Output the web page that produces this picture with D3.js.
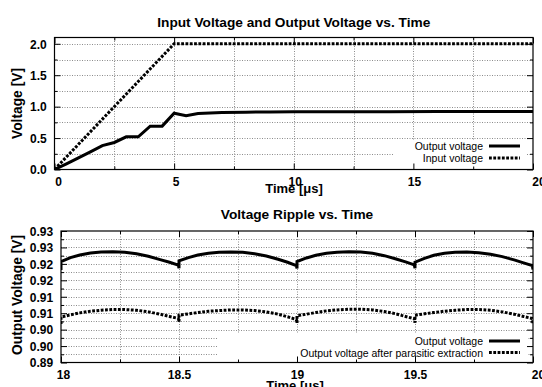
<!DOCTYPE html>
<html>
<head>
<meta charset="utf-8">
<script src="https://cdn.jsdelivr.net/npm/d3@7"></script>
<style>
  html, body { margin: 0; padding: 0; background: #fff; }
  svg { display: block; }
  text { font-family: "Liberation Sans", Arial, Helvetica, sans-serif; fill: #000; }
</style>
</head>
<body>
<svg id="chart" width="542" height="387"></svg>
<script>
// ---------- DATA ----------
// Top chart: Input Voltage and Output Voltage vs. Time
const topTime   = [0, 0.5, 1, 1.5, 2, 2.5, 3, 3.5, 4, 4.5, 5, 5.5, 6, 6.5, 7, 8, 9, 10, 12, 14, 16, 18, 20];
const topOutput = [0, 0.09, 0.185, 0.28, 0.38, 0.43, 0.52, 0.52, 0.69, 0.69, 0.895, 0.855, 0.89, 0.90, 0.905, 0.912, 0.915, 0.917, 0.919, 0.920, 0.921, 0.921, 0.922];
const inputTime    = [0, 5, 20];
const inputVoltage = [0, 2.0, 2.0];

const topXTicks = [0, 5, 10, 15, 20];
const topXTickLabels = ["0", "5", "10", "15", "20"];
const topXMinor = [2.5, 7.5, 12.5, 17.5];
const topYTicks = [0, 0.5, 1.0, 1.5, 2.0];
const topYTickLabels = ["0.0", "0.5", "1.0", "1.5", "2.0"];
const topYMinor = [0.25, 0.75, 1.25, 1.75];

// Bottom chart: Voltage Ripple vs. Time
const rippleTime = [
  18.000, 18.000, 18.04, 18.08, 18.125, 18.17, 18.22, 18.27, 18.32, 18.37, 18.42, 18.46, 18.497,
  18.500, 18.500, 18.54, 18.58, 18.625, 18.67, 18.72, 18.77, 18.82, 18.87, 18.92, 18.96, 18.997,
  19.000, 19.000, 19.04, 19.08, 19.125, 19.17, 19.22, 19.27, 19.32, 19.37, 19.42, 19.46, 19.497,
  19.500, 19.500, 19.54, 19.58, 19.625, 19.67, 19.72, 19.77, 19.82, 19.87, 19.92, 19.96, 19.997, 20.000
];
const rippleOutput = [
  0.9181, 0.9207, 0.9219, 0.9227, 0.9233, 0.9236, 0.9237, 0.9235, 0.9231, 0.9223, 0.9213, 0.9205, 0.9196,
  0.9187, 0.9209, 0.9219, 0.9227, 0.9232, 0.9235, 0.9236, 0.9235, 0.9231, 0.9224, 0.9214, 0.9205, 0.9195,
  0.9186, 0.9207, 0.9218, 0.9226, 0.9232, 0.9235, 0.9237, 0.9236, 0.9232, 0.9225, 0.9215, 0.9206, 0.9197,
  0.9187, 0.9205, 0.9217, 0.9226, 0.9232, 0.9235, 0.9236, 0.9234, 0.9229, 0.9222, 0.9212, 0.9203, 0.9195, 0.9183
];
const rippleParasitic = [
  0.9017, 0.9038, 0.9045, 0.9051, 0.9056, 0.9059, 0.9061, 0.9061, 0.9059, 0.9054, 0.9047, 0.9040, 0.9034,
  0.9024, 0.9044, 0.9048, 0.9052, 0.9056, 0.9058, 0.9060, 0.9060, 0.9058, 0.9054, 0.9047, 0.9039, 0.9031,
  0.9020, 0.9042, 0.9047, 0.9052, 0.9057, 0.9060, 0.9062, 0.9062, 0.9060, 0.9055, 0.9048, 0.9040, 0.9033,
  0.9021, 0.9044, 0.9048, 0.9052, 0.9056, 0.9059, 0.9061, 0.9061, 0.9059, 0.9054, 0.9047, 0.9040, 0.9034, 0.9016
];

const botXTicks = [18, 18.5, 19, 19.5, 20];
const botXTickLabels = ["18", "18.5", "19", "19.5", "20"];
const botXMinor = [18.25, 18.75, 19.25, 19.75];
const botYTicks = [0.89, 0.895, 0.90, 0.905, 0.91, 0.915, 0.92, 0.925, 0.93];
const botYTickLabels = ["0.89", "0.90", "0.90", "0.91", "0.91", "0.92", "0.92", "0.93", "0.93"];
const botYMinor = [0.8925, 0.8975, 0.9025, 0.9075, 0.9125, 0.9175, 0.9225, 0.9275];

// ---------- DRAW ----------
const svg = d3.select("#chart");

function panel(cfg) {
  const { x, y } = cfg;
  const [x0, x1] = x.range();
  const [y0, y1] = y.range(); // y0 bottom, y1 top
  const g = svg.append("g");

  // clip
  const clipId = "clip" + cfg.id;
  svg.append("clipPath").attr("id", clipId)
    .append("rect").attr("x", x0).attr("y", y1).attr("width", x1 - x0).attr("height", y0 - y1);

  // grid
  const gridX = cfg.xTicks.concat(cfg.xMinor).filter(v => v > x.domain()[0] && v < x.domain()[1]);
  const gridY = cfg.yTicks.concat(cfg.yMinor).filter(v => v > y.domain()[0] && v < y.domain()[1]);
  const grid = g.append("g").attr("stroke", "#8c8c8c").attr("stroke-width", 1)
    .attr("stroke-dasharray", "1,1.5").attr("fill", "none");
  grid.selectAll("line.gx").data(gridX).join("line")
    .attr("x1", d => Math.round(x(d)) + 0.5).attr("x2", d => Math.round(x(d)) + 0.5)
    .attr("y1", y0).attr("y2", y1);
  grid.selectAll("line.gy").data(gridY).join("line")
    .attr("y1", d => Math.round(y(d)) + 0.5).attr("y2", d => Math.round(y(d)) + 0.5)
    .attr("x1", x0).attr("x2", x1);

  // legend background
  g.append("rect")
    .attr("x", cfg.legendBox[0]).attr("y", cfg.legendBox[1])
    .attr("width", cfg.legendBox[2]).attr("height", cfg.legendBox[3])
    .attr("fill", "#fff");

  // axes (inward ticks, mirrored)
  function styleAxis(sel) {
    sel.select(".domain").remove();
    sel.selectAll("line").attr("stroke", "#000").attr("stroke-width", 1);
    sel.selectAll("text").attr("font-size", "12px").attr("font-weight", "bold")
      .style("font-family", '"Liberation Sans", Arial, sans-serif');
  }
  const fmtX = d => cfg.xTickLabels[cfg.xTicks.indexOf(d)];
  const fmtY = d => cfg.yTickLabels[cfg.yTicks.indexOf(d)];

  const axB = g.append("g").attr("transform", `translate(0,${y0})`)
    .call(d3.axisBottom(x).tickValues(cfg.xTicks).tickFormat(fmtX).tickSize(-6).tickPadding(7.5));
  styleAxis(axB);
  axB.selectAll("text").attr("dx", (d, i) => cfg.xLabelDx[i]);
  const axBm = g.append("g").attr("transform", `translate(0,${y0})`)
    .call(d3.axisBottom(x).tickValues(cfg.xMinor).tickFormat("").tickSize(-3));
  styleAxis(axBm);
  const axT = g.append("g").attr("transform", `translate(0,${y1})`)
    .call(d3.axisTop(x).tickValues(cfg.xTicks).tickFormat("").tickSize(-6));
  styleAxis(axT);
  const axTm = g.append("g").attr("transform", `translate(0,${y1})`)
    .call(d3.axisTop(x).tickValues(cfg.xMinor).tickFormat("").tickSize(-3));
  styleAxis(axTm);

  const axL = g.append("g").attr("transform", `translate(${x0},0)`)
    .call(d3.axisLeft(y).tickValues(cfg.yTicks).tickFormat(fmtY).tickSize(-6).tickPadding(7.8));
  styleAxis(axL);
  axL.selectAll("text").attr("dy", "0.36em");
  const axLm = g.append("g").attr("transform", `translate(${x0},0)`)
    .call(d3.axisLeft(y).tickValues(cfg.yMinor).tickFormat("").tickSize(-3));
  styleAxis(axLm);
  const axR = g.append("g").attr("transform", `translate(${x1},0)`)
    .call(d3.axisRight(y).tickValues(cfg.yTicks).tickFormat("").tickSize(-6));
  styleAxis(axR);
  const axRm = g.append("g").attr("transform", `translate(${x1},0)`)
    .call(d3.axisRight(y).tickValues(cfg.yMinor).tickFormat("").tickSize(-3));
  styleAxis(axRm);

  // frame
  g.append("rect").attr("x", x0).attr("y", y1).attr("width", x1 - x0).attr("height", y0 - y1)
    .attr("fill", "none").attr("stroke", "#000").attr("stroke-width", 1.2);

  // series
  const line = d3.line().x(d => x(d[0])).y(d => y(d[1]));
  const lg = g.append("g").attr("clip-path", `url(#${clipId})`);
  cfg.series.forEach(s => {
    lg.append("path")
      .attr("d", line(s.t.map((t, i) => [t, s.v[i]])))
      .attr("fill", "none").attr("stroke", "#000").attr("stroke-width", 3)
      .attr("stroke-dasharray", s.dash ? "2.8,1.5" : null)
      .attr("stroke-linejoin", "miter").attr("stroke-miterlimit", 2);
  });

  // legend
  cfg.series.forEach((s, i) => {
    const ly = cfg.legendY[i];
    g.append("text").attr("x", 483).attr("y", ly + 4.3).attr("text-anchor", "end")
      .attr("font-size", "10.5px").text(s.name);
    g.append("line").attr("x1", 489).attr("x2", 520).attr("y1", ly).attr("y2", ly)
      .attr("stroke", "#000").attr("stroke-width", 3)
      .attr("stroke-dasharray", s.dash ? "2.8,1.5" : null);
  });

  // titles and labels
  svg.append("text").attr("x", (x0 + x1) / 2).attr("y", cfg.titleY).attr("text-anchor", "middle")
    .attr("font-size", "13.7px").attr("font-weight", "bold").text(cfg.title);
  svg.append("text").attr("x", cfg.xLabelX).attr("y", cfg.xLabelY).attr("text-anchor", "middle")
    .attr("font-size", "13px").attr("font-weight", "bold").text("Time [\u03bcs]");
  svg.append("text").attr("transform", `translate(21.5,${cfg.yLabelY}) rotate(-90)`)
    .attr("text-anchor", "middle").attr("font-size", "13.8px").attr("font-weight", "bold")
    .text(cfg.yLabel);
}

panel({
  id: "top",
  x: d3.scaleLinear().domain([0, 20]).range([54.5, 533]),
  y: d3.scaleLinear().domain([0, 2.1]).range([169.5, 37.5]),
  xTicks: topXTicks, xTickLabels: topXTickLabels, xMinor: topXMinor, xLabelDx: [3.5, 1.5, 1, 0.5, 5.5],
  yTicks: topYTicks, yTickLabels: topYTickLabels, yMinor: topYMinor,
  legendBox: [394, 140, 132, 29.5],
  legendY: [146, 158],
  series: [
    { name: "Output voltage", t: topTime, v: topOutput, dash: false },
    { name: "Input voltage", t: inputTime, v: inputVoltage, dash: true }
  ],
  title: "Input Voltage and Output Voltage vs. Time", titleY: 26.5,
  xLabelX: 294, xLabelY: 192.5,
  yLabel: "Voltage [V]", yLabelY: 103.5
});

panel({
  id: "bot",
  x: d3.scaleLinear().domain([18, 20]).range([61, 533]),
  y: d3.scaleLinear().domain([0.89, 0.93]).range([362.5, 231]),
  xTicks: botXTicks, xTickLabels: botXTickLabels, xMinor: botXMinor, xLabelDx: [2, 0, 0, 0, 5],
  yTicks: botYTicks, yTickLabels: botYTickLabels, yMinor: botYMinor,
  legendBox: [218, 333, 309, 29.5],
  legendY: [341, 352.5],
  series: [
    { name: "Output voltage", t: rippleTime, v: rippleOutput, dash: false },
    { name: "Output voltage after parasitic extraction", t: rippleTime, v: rippleParasitic, dash: true }
  ],
  title: "Voltage Ripple vs. Time", titleY: 219.3,
  xLabelX: 295, xLabelY: 389.5,
  yLabel: "Output Voltage [V]", yLabelY: 295
});
</script>
</body>
</html>
